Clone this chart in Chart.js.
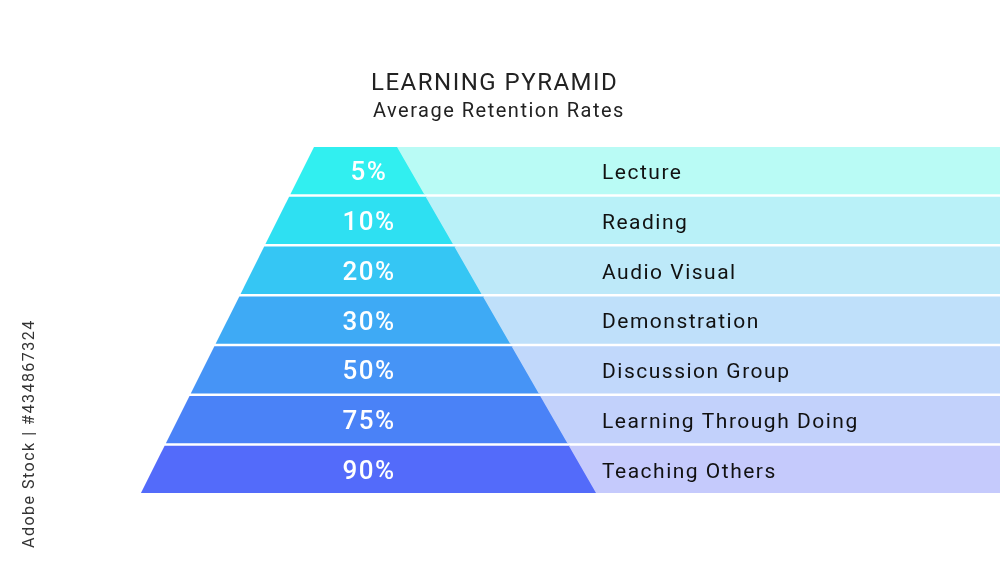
<!DOCTYPE html>
<html><head><meta charset="utf-8">
<script src="https://cdn.jsdelivr.net/npm/chart.js@4"></script>
<style>html,body{margin:0;padding:0;background:#fff}#w{width:1000px;height:563px}</style>
</head><body><div id="w"><canvas id="c"></canvas></div>
<script>
const categories = ["Lecture","Reading","Audio Visual","Demonstration","Discussion Group","Learning Through Doing","Teaching Others"];
const retention = [5,10,20,30,50,75,90];
const pyramidColors = ["#31eff0","#2ee0f2","#35c6f4","#3eaaf5","#4694f6","#4a82f7","#536bfa"];
const bandColors = ["#b9fbf5","#b9f1f8","#bde9f9","#bfe0fa","#c1d8fb","#c2d1fb","#c5cafc"];

const TOP=147, H=49.8, GAP=2.5, APEX_L=314, APEX_R=398, SL=0.5, SR=0.575, BAND_END=1000;
const leftAt = y => APEX_L - (y-TOP)*SL;
const rightAt = y => APEX_R + (y-TOP)*SR;

const datasets = [];
categories.forEach((c,i)=>{
  const y0 = TOP+i*H, y1 = y0+H-GAP;
  datasets.push({data:[{x:rightAt(y0)-1,y:y0},{x:BAND_END,y:y0},{x:BAND_END,y:y1},{x:rightAt(y1)-1,y:y1},{x:rightAt(y0)-1,y:y0}],
    backgroundColor:bandColors[i],borderWidth:0,pointRadius:0,fill:'shape',tension:0});
  datasets.push({data:[{x:leftAt(y0),y:y0},{x:rightAt(y0),y:y0},{x:rightAt(y1),y:y1},{x:leftAt(y1),y:y1},{x:leftAt(y0),y:y0}],
    backgroundColor:pyramidColors[i],borderWidth:0,pointRadius:0,fill:'shape',tension:0});
});

const labelPlugin = {id:'labels', afterDatasetsDraw(chart){
  const ctx=chart.ctx, xs=chart.scales.x, ys=chart.scales.y;
  ctx.save(); ctx.textBaseline='middle';
  categories.forEach((c,i)=>{
    const ym = ys.getPixelForValue(TOP+i*H+(H-GAP)/2)+3;
    ctx.fillStyle='#fff'; ctx.font='500 26px Roboto'; ctx.textAlign='center';
    if(ctx.letterSpacing!==undefined) ctx.letterSpacing='1.5px';
    ctx.fillText(retention[i]+'%', xs.getPixelForValue(369), ym);
    ctx.fillStyle='#111'; ctx.font='21px Roboto'; ctx.textAlign='left';
    ctx.fillText(c, xs.getPixelForValue(602), ym);
  });
  ctx.fillStyle='#222'; ctx.font='24px Roboto'; ctx.textAlign='left';
  ctx.fillText('LEARNING PYRAMID', 371, 84);
  ctx.font='20px Roboto'; ctx.fillText('Average Retention Rates', 373, 112);
  ctx.translate(30,548); ctx.rotate(-Math.PI/2); ctx.fillStyle='#333'; ctx.font='16px Roboto';
  ctx.fillText('Adobe Stock | #434867324', 0, 0);
  ctx.restore();
}};

new Chart(document.getElementById('c'),{
  type:'line',
  data:{datasets},
  options:{responsive:true,maintainAspectRatio:false,animation:false,
    layout:{padding:0},
    plugins:{legend:{display:false},tooltip:{enabled:false}},
    scales:{x:{type:'linear',min:0,max:1000,display:false},
            y:{type:'linear',min:0,max:563,reverse:true,display:false}}},
  plugins:[labelPlugin]
});
</script></body></html>
